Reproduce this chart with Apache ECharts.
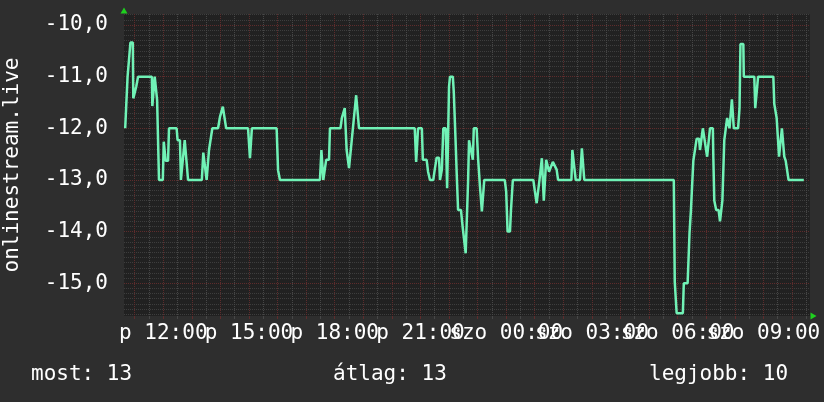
<!DOCTYPE html>
<html><head><meta charset="utf-8">
<script src="https://cdn.jsdelivr.net/npm/echarts@6/dist/echarts.min.js"></script>
<style>html,body{margin:0;padding:0;background:#2e2e2e}#c{width:824px;height:402px}</style>
</head><body><div id="c"></div>
<script>
// time in minutes since Friday 00:00 ("p" = péntek, "szo" = szombat)
const times = [640,642,645,651,656,657,660,663,667,696,697,700,702,706,707,711,719,721,725,730,732,748,750,755,757,761,765,769,772,801,804,807,811,814,816,820,823,835,839,845,849,852,898,902,906,958,961,965,
1049,1052,1054,1056,1062,1068,1070,1092,1095,1098,1101,1105,1110,1114,1125,1129,1131,1248,1251,1253,1255,1263,1265,1273,1276,1280,1287,1290,1294,1299,1301,1305,1308,1313,1316,1318,1320,1322,1328,1330,1334,1336,1339,1345,1349,1352,1355,1359,1360,1362,1366,1370,1372,1378,1381,1383,1385,1389,1392,1394,1437,1440,1443,1448,1450,1454,1497,1500,1504,1505,1510,1515,1518,1519,1521,1524,1526,1530,1538,1541,1546,1549,1577,1579,1582,1586,1595,1599,1602,1604,1792,
1794,1798,1811,1813,1821,1825,1828,1832,1833,1836,1840,1845,1847,1851,1853,1857,1862,1866,1868,1874,1875,1877,1881,1886,1889,1894,1898,1902,1904,1906,1909,1914,1917,1918,1927,1930,1932,1938,1939,1961,1963,1967,1969,2001,2003,2007,2008,2013,2017,2019,2022,2024,2027,2031,2033,2065];
const values = [-12.0,-11.6,-11.0,-10.34,-10.34,-11.42,-11.42,-11.2,-11.0,-11.0,-11.57,-11.57,-11.0,-11.0,-11.45,-13.0,-13.0,-12.26,-12.63,-12.63,-12.0,-12.0,-12.23,-12.23,-13.0,-12.61,-12.23,-12.23,-13.0,-13.0,-12.47,-12.47,-13.0,-13.0,-12.42,-12.42,-12.0,-12.0,-11.78,-11.58,-11.58,-12.0,-12.0,-12.58,-12.0,-12.0,-12.81,-13.0,
-13.0,-12.42,-12.42,-13.0,-12.61,-12.61,-12.0,-12.0,-11.8,-11.8,-11.61,-12.42,-12.77,-12.77,-11.36,-11.36,-12.0,-12.0,-12.65,-12.65,-12.0,-12.0,-12.61,-12.61,-12.84,-13.0,-13.0,-12.8,-12.57,-12.57,-13.0,-12.8,-12.0,-12.0,-13.16,-13.16,-11.2,-11.0,-11.0,-11.3,-12.3,-12.84,-13.58,-13.58,-13.94,-13.94,-14.42,-14.42,-13.03,-12.23,-12.23,-12.61,-12.0,-12.0,-12.58,-12.58,-13.13,-13.61,-13.61,-13.0,-13.0,-13.22,-14.0,-14.0,-13.6,-13.0,-13.0,-13.2,-13.45,-13.45,-13.0,-12.58,-12.58,-13.4,-13.4,-12.61,-12.61,-12.84,-12.65,-12.65,-12.8,-13.0,-13.0,-12.42,-12.42,-13.0,-13.0,-12.39,-12.39,-13.0,-13.0,
-14.97,-15.58,-15.58,-15.0,-15.0,-14.03,-13.58,-13.58,-12.63,-12.63,-12.2,-12.2,-12.42,-12.42,-12.0,-12.0,-12.55,-12.55,-12.0,-12.0,-12.55,-13.4,-13.58,-13.58,-13.8,-13.4,-12.23,-12.23,-11.8,-11.8,-12.0,-11.44,-11.44,-12.0,-12.0,-11.61,-10.37,-10.37,-11.0,-11.0,-11.61,-11.61,-11.0,-11.0,-11.53,-11.53,-11.8,-12.55,-12.55,-12.0,-12.0,-12.55,-12.63,-12.63,-13.0,-13.0];
const xLabelTicksA = [720,1080,1440,1800];   // p 12:00, p 18:00, szo 00:00, szo 06:00
const xLabelTicksB = [900,1260,1620,1980];   // p 15:00, p 21:00, szo 03:00, szo 09:00
const yLabelTicks = [-15,-14,-13,-12,-11,-10];
const xRange = [637.5, 2078];
const yRange = [-15.634, -9.787];
const yTitle = 'onlinestream.live';
const legendTexts = ['most: 13', 'átlag: 13', 'legjobb: 10'];

const FONT = '"DejaVu Sans Mono", monospace';
const majorX = [], minorX = [];
for (let m = 660; m <= 2040; m += 60) majorX.push(m);
for (let m = 690; m <= 2070; m += 60) minorX.push(m);
const minorY = [];
for (let i = -156; i <= -98; i++) { if (i % 10 !== 0) minorY.push(i / 10); }

function xl(m) {
  const d = m < 1440 ? 'p ' : 'szo ';
  const h = Math.floor((m % 1440) / 60);
  return d + String(h).padStart(2, '0') + ':00';
}
const gridAxis = (custom, color, tick, arrow) => ({
  type: 'value', min: null, max: null,
  axisLabel: { show: false },
  axisTick: { show: tick, length: 3, customValues: custom, lineStyle: { color: color, width: 1 } },
  splitLine: { show: true, lineStyle: { color: color, width: 1, type: [1, 1] } },
  axisLine: arrow ? { show: true, onZero: false, symbol: ['none', 'triangle'], symbolSize: [7, 6], symbolOffset: [0, 3.5], lineStyle: { color: '#1fd01f', width: 0 } } : { show: false }
});
const labelAxis = (custom) => ({
  type: 'value', min: xRange[0], max: xRange[1], position: 'bottom',
  axisLine: { show: false, onZero: false }, axisTick: { show: false }, splitLine: { show: false },
  axisLabel: { show: true, customValues: custom, formatter: xl, color: '#ffffff', fontFamily: FONT, fontSize: 21, margin: 7, hideOverlap: false, showMinLabel: true, showMaxLabel: true }
});

const xMinor = gridAxis(minorX, '#474747', true, false);
const xMajor = gridAxis(majorX, '#5e2c2c', true, true);
const yMinor = gridAxis(minorY, '#3d3d3d', false, false);
const yMajor = gridAxis(yLabelTicks, '#5e2c2c', false, true);
[xMinor, xMajor].forEach(a => { a.min = xRange[0]; a.max = xRange[1]; a.position = 'bottom'; });
[yMinor, yMajor].forEach(a => { a.min = yRange[0]; a.max = yRange[1]; a.position = 'left'; });

const chart = echarts.init(document.getElementById('c'), null, { renderer: 'canvas' });
chart.setOption({
  animation: false,
  backgroundColor: '#2e2e2e',
  grid: { left: 124, top: 14, width: 686, height: 302, show: true, backgroundColor: '#212121', borderWidth: 0, containLabel: false, outerBoundsMode: 'none' },
  xAxis: [ labelAxis(xLabelTicksA), xMinor, xMajor, labelAxis(xLabelTicksB) ],
  yAxis: [
    { type: 'value', min: yRange[0], max: yRange[1], position: 'left',
      axisLine: { show: false, onZero: false }, axisTick: { show: false }, splitLine: { show: false },
      axisLabel: { show: true, customValues: yLabelTicks, formatter: v => v.toFixed(1).replace('.', ','), color: '#ffffff', fontFamily: FONT, fontSize: 21, margin: 16, showMinLabel: true, showMaxLabel: true },
      name: yTitle, nameLocation: 'middle', nameRotate: 90, nameGap: 101,
      nameTextStyle: { color: '#ffffff', fontFamily: FONT, fontSize: 21 } },
    yMinor, yMajor
  ],
  graphic: [
    { type: 'text', left: 31, top: 364, style: { text: legendTexts[0], fill: '#ffffff', font: '21px ' + FONT } },
    { type: 'text', left: 333, top: 364, style: { text: legendTexts[1], fill: '#ffffff', font: '21px ' + FONT } },
    { type: 'text', left: 649, top: 364, style: { text: legendTexts[2], fill: '#ffffff', font: '21px ' + FONT } }
  ],
  series: [{
    type: 'line', xAxisIndex: 0, yAxisIndex: 0, showSymbol: false, symbol: 'none',
    lineStyle: { color: '#70f2b6', width: 2.5 },
    data: times.map((t, i) => [t, values[i]]),
    z: 10
  }]
});
</script></body></html>
